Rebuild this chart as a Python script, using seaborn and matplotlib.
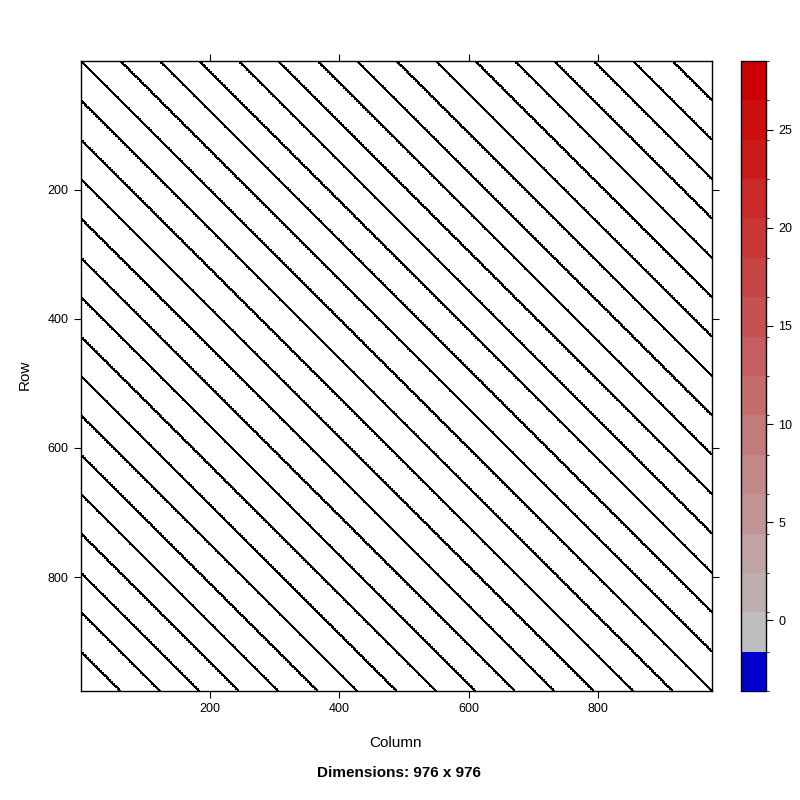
import numpy as np
import pandas as pd
import matplotlib
matplotlib.use('Agg')
import matplotlib.pyplot as plt
import matplotlib as mpl
from matplotlib.colors import ListedColormap, BoundaryNorm
import seaborn as sns

# matrix size and the diagonals that hold nonzeros
n_dim = 976
band_offsets = [0, 61, 122, 183, 244, 305, 366, 427, 488, 549, 610, 671, 732, 793, 854, 915]
# value stored on each diagonal (upper and lower the same)
band_values = [28, -3, 4, 2, 1, 1, 1, 1, 1, 1, 1, 1, 1, 1, 1, 1]

# colour key: 16 bands, blue for the negatives, grey -> red above zero
key_low, key_high = -3.6, 28.5
key_ticks = [0, 5, 10, 15, 20, 25]

# build the nonzero cells
rows, cols, vals = [], [], []
for off, v in zip(band_offsets, band_values):
    k = np.arange(n_dim - off)
    rows.append(k + 1); cols.append(k + 1 + off); vals.append(np.full(k.size, v))
    if off:
        rows.append(k + 1 + off); cols.append(k + 1); vals.append(np.full(k.size, v))
df = pd.DataFrame({'Row': np.concatenate(rows), 'Column': np.concatenate(cols),
                   'value': np.concatenate(vals)})

sns.set_style('white')
plt.rcParams['font.family'] = ['Liberation Sans', 'DejaVu Sans']
plt.rcParams['text.color'] = 'black'
plt.rcParams['xtick.color'] = 'black'
plt.rcParams['ytick.color'] = 'black'
plt.rcParams['axes.labelcolor'] = 'black'

fig = plt.figure(figsize=(8, 8), dpi=100)
ax = fig.add_axes([81/800, 109/800, 631/800, 630/800])

sns.scatterplot(data=df, x='Column', y='Row', marker='s', s=4, color='black',
                linewidth=0, legend=False, ax=ax)
ax.set_xlim(0.5, n_dim + 0.5)
ax.set_ylim(n_dim + 0.5, 0.5)
ax.set_xticks([200, 400, 600, 800])
ax.set_yticks([200, 400, 600, 800])
ax.tick_params(direction='out', length=5, width=0.8, color='black', labelcolor='black',
               labelsize=9, top=True, right=True, bottom=True, left=True,
               labeltop=False, labelright=False, pad=4)
ax.set_xlabel('')
ax.set_ylabel('')
for sp in ax.spines.values():
    sp.set_color('black'); sp.set_linewidth(1)

# colour key
breaks = np.linspace(key_low, key_high, 17)
grey, red = np.array([190, 190, 190]) / 255, np.array([204, 0, 0]) / 255
colors = ['#0000CC'] + [tuple(grey + (red - grey) * t) for t in np.linspace(0, 1, 15)]
cax = fig.add_axes([741/800, 109/800, 25/800, 630/800])
cb = mpl.colorbar.ColorbarBase(cax, cmap=ListedColormap(colors),
                               norm=BoundaryNorm(breaks, 16), ticks=key_ticks,
                               boundaries=breaks, spacing='proportional')
cb.outline.set_color('black'); cb.outline.set_linewidth(1)
cax.tick_params(direction='out', length=5, width=0.8, color='black', labelcolor='black',
                labelsize=9, pad=4)
cax.set_yticklabels([str(t) for t in key_ticks])

fig.text(25/800, 1 - 375/800, 'Row', rotation=90, ha='center', va='center',
         fontsize=11, color='black')
fig.text(396/800, 1 - 743/800, 'Column', ha='center', va='center', fontsize=11,
         color='black')
fig.text(399/800, 1 - 773/800, 'Dimensions: 976 x 976', ha='center', va='center',
         fontsize=11, fontweight='bold', color='black')

fig.savefig('out.png', dpi=100, facecolor='white')
